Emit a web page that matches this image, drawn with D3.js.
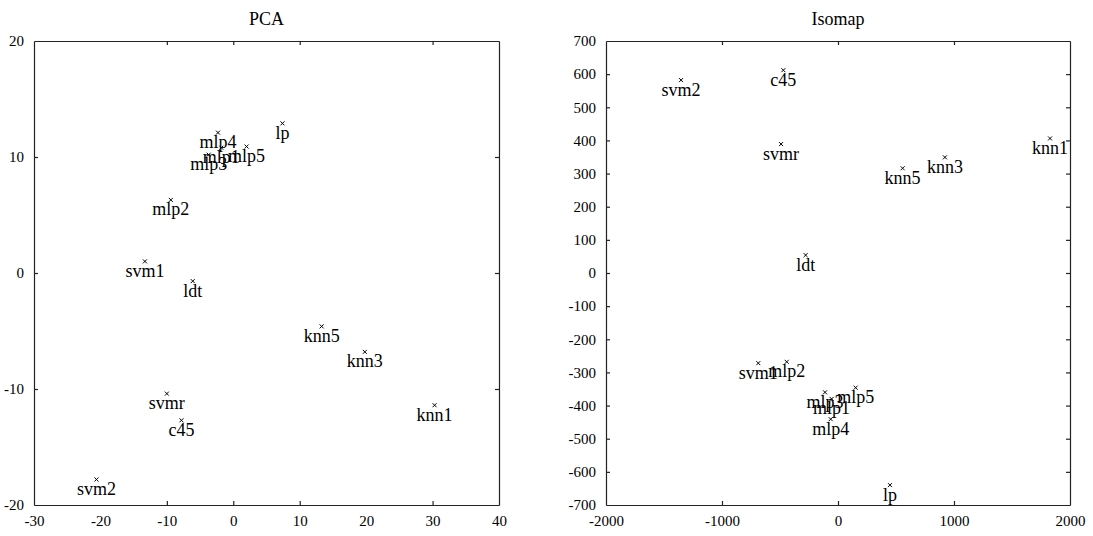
<!DOCTYPE html>
<html>
<head>
<meta charset="utf-8">
<script src="https://cdn.jsdelivr.net/npm/d3@7"></script>
<style>
  body { margin: 0; background: #fff; }
  svg text { font-family: "Liberation Serif", "DejaVu Serif", serif; fill: #000; }
</style>
</head>
<body>
<svg id="chart" width="1093" height="536"></svg>
<script>
// method names (same order for both projections)
const names = ['svm1', 'svm2', 'svmr', 'c45', 'ldt', 'lp', 'knn1', 'knn3', 'knn5',
               'mlp1', 'mlp2', 'mlp3', 'mlp4', 'mlp5'];

// PCA coordinates
const pcaX = [-13.3, -20.6, -10.0, -7.8, -6.1, 7.4, 30.3, 19.8, 13.3,
              -1.8, -9.4, -3.7, -2.3, 2.0];
const pcaY = [1.0, -17.8, -10.4, -12.7, -0.7, 12.9, -11.4, -6.8, -4.6,
              10.8, 6.3, 10.2, 12.1, 10.9];

// Isomap coordinates
const isoX = [-687, -1353, -491, -471, -279, 448, 1828, 922, 557,
              -55, -442, -112, -63, 152];
const isoY = [-272, 582, 389, 612, 54, -640, 406, 349, 316,
              -380, -268, -360, -441, -346];

// tick values
const pcaXTicks = [-30, -20, -10, 0, 10, 20, 30, 40];
const pcaYTicks = [-20, -10, 0, 10, 20];
const isoXTicks = [-2000, -1000, 0, 1000, 2000];
const isoYTicks = [-700, -600, -500, -400, -300, -200, -100, 0, 100, 200, 300, 400, 500, 600, 700];

const svg = d3.select('#chart');

function drawPanel(opt) {
    const g = svg.append('g');
    const x = d3.scaleLinear().domain(opt.xDomain).range([opt.left, opt.right]);
    const y = d3.scaleLinear().domain(opt.yDomain).range([opt.bottom, opt.top]);
    const tk = 4;

    // bottom + left axes with labels, top + right mirrored (no labels)
    const axes = [
        { a: d3.axisBottom(x).tickValues(opt.xTicks), t: `translate(0,${opt.bottom})`, lab: true },
        { a: d3.axisTop(x).tickValues(opt.xTicks), t: `translate(0,${opt.top})`, lab: false },
        { a: d3.axisLeft(y).tickValues(opt.yTicks), t: `translate(${opt.left},0)`, lab: true },
        { a: d3.axisRight(y).tickValues(opt.yTicks), t: `translate(${opt.right},0)`, lab: false }
    ];
    axes.forEach(d => {
        const ag = g.append('g').attr('transform', d.t)
            .call(d.a.tickSizeInner(-tk).tickSizeOuter(0).tickPadding(tk + 6).tickFormat(v => String(v)));
        ag.selectAll('path, line').attr('stroke', '#222').attr('stroke-width', 1.2);
        ag.selectAll('text').attr('font-size', 15).attr('font-family', '"Liberation Serif", serif').attr('fill', '#000');
        if (!d.lab) ag.selectAll('text').remove();
        ag.selectAll('.tick').filter(v => v === opt.xDomain[0] || v === opt.xDomain[1] ||
            v === opt.yDomain[0] || v === opt.yDomain[1]).select('line').remove();
    });

    g.append('text')
        .attr('x', (opt.left + opt.right) / 2)
        .attr('y', 25)
        .attr('text-anchor', 'middle')
        .attr('font-size', 18)
        .text(opt.title);

    const pts = names.map((n, i) => ({ n: n, x: opt.xs[i], y: opt.ys[i] }));
    const m = 2;
    const pg = g.append('g').selectAll('g').data(pts).enter().append('g')
        .attr('transform', d => `translate(${x(d.x)},${y(d.y)})`);
    pg.append('path')
        .attr('d', `M${-m},${-m}L${m},${m}M${-m},${m}L${m},${-m}`)
        .attr('stroke', '#000').attr('stroke-width', 1);
    pg.append('text')
        .attr('y', 15.5)
        .attr('text-anchor', 'middle')
        .attr('font-size', 18)
        .text(d => d.n);
}

drawPanel({
    title: 'PCA', left: 34, right: 499, top: 41, bottom: 505,
    xDomain: [-30, 40], yDomain: [-20, 20], xTicks: pcaXTicks, yTicks: pcaYTicks,
    xs: pcaX, ys: pcaY
});
drawPanel({
    title: 'Isomap', left: 606, right: 1070, top: 41, bottom: 505,
    xDomain: [-2000, 2000], yDomain: [-700, 700], xTicks: isoXTicks, yTicks: isoYTicks,
    xs: isoX, ys: isoY
});
</script>
</body>
</html>
